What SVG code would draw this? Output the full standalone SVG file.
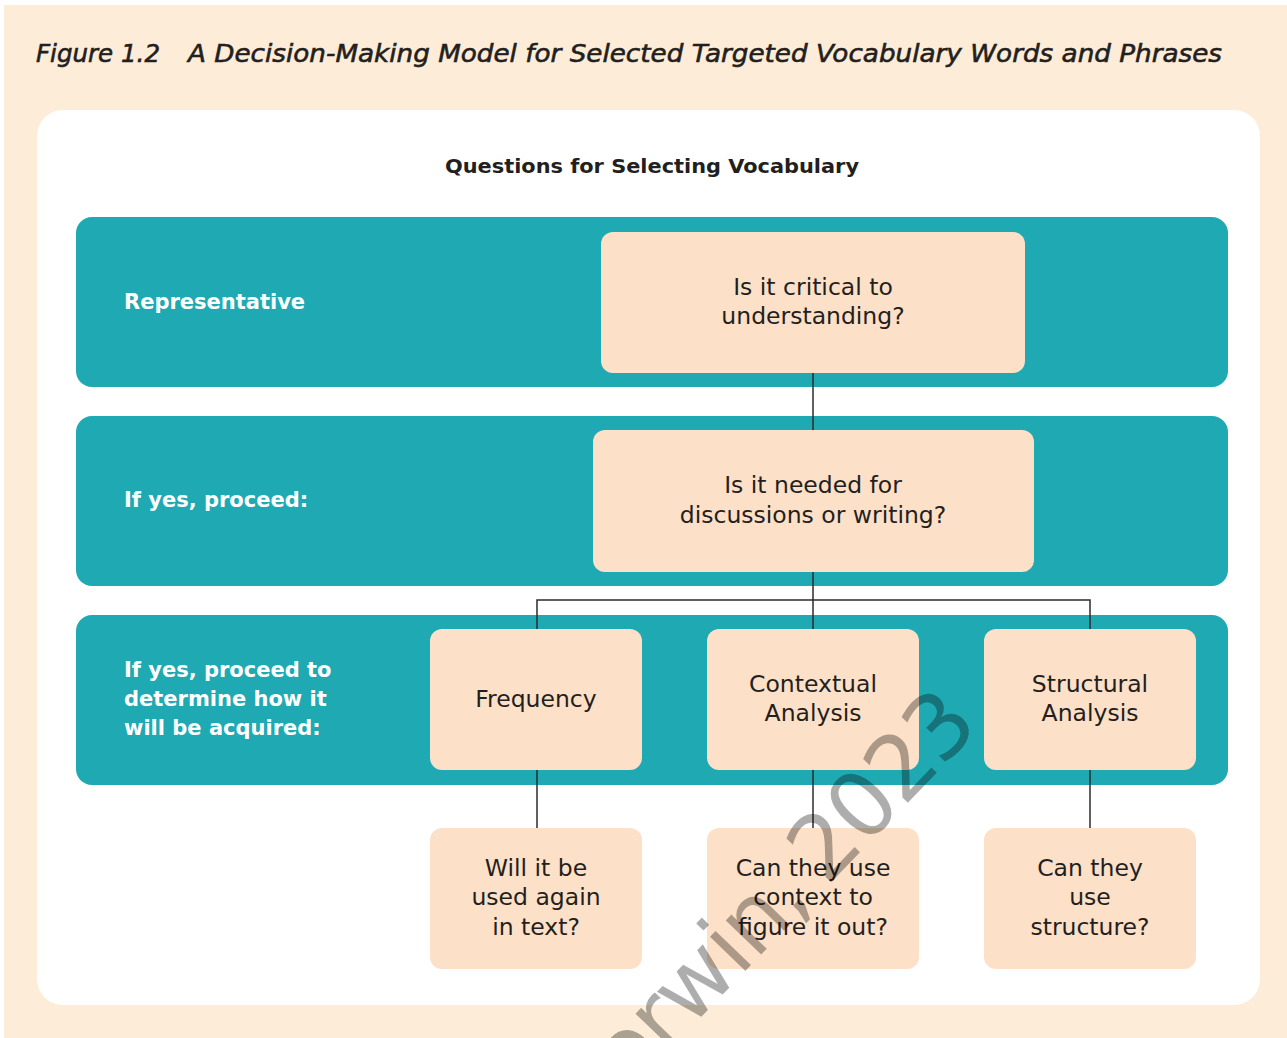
<svg xmlns="http://www.w3.org/2000/svg" width="1287" height="1038" viewBox="0 0 1287 1038">
  <style>
    .title { font-family: "DejaVu Sans", "Liberation Sans", sans-serif; font-style: italic; font-size: 25px; fill: #231f20; stroke: #231f20; stroke-width: 0.6; }
    .head { font-family: "DejaVu Sans", "Liberation Sans", sans-serif; font-weight: 700; font-size: 20px; fill: #231f20; }
    .band { fill: #1faab3; }
    .bandtext { font-family: "DejaVu Sans", "Liberation Sans", sans-serif; font-weight: 700; font-size: 21px; fill: #ffffff; }
    .box { fill: #fde0c8; }
    .boxtext { font-family: "DejaVu Sans", "Liberation Sans", sans-serif; font-size: 23.5px; fill: #231f20; text-anchor: middle; }
    .conn { stroke: #2b2b2b; stroke-width: 1.5; fill: none; }
    .wm { font-family: "DejaVu Sans", "Liberation Sans", sans-serif; font-size: 90px; letter-spacing: -2px; word-spacing: -6px; fill: #000000; fill-opacity: 0.32; }
  </style>
  <rect x="0" y="0" width="1287" height="1038" fill="#ffffff"/>
  <rect x="4" y="5" width="1283" height="1033" fill="#fdedd8"/>
  <text class="title" x="36" y="62" textLength="124" lengthAdjust="spacingAndGlyphs">Figure 1.2</text>
  <text class="title" x="188" y="62" textLength="1034" lengthAdjust="spacingAndGlyphs">A Decision-Making Model for Selected Targeted Vocabulary Words and Phrases</text>
  <rect x="37" y="110" width="1223" height="895" rx="26" fill="#ffffff"/>
  <text class="head" x="445" y="173" textLength="414" lengthAdjust="spacingAndGlyphs">Questions for Selecting Vocabulary</text>

  <g id="band-representative">
    <rect class="band" x="76" y="217" width="1152" height="170" rx="16"/>
    <text class="bandtext" x="124" y="309">Representative</text>
  </g>
  <g id="band-proceed">
    <rect class="band" x="76" y="416" width="1152" height="170" rx="16"/>
    <text class="bandtext" x="124" y="507">If yes, proceed:</text>
  </g>
  <g id="band-acquired">
    <rect class="band" x="76" y="615" width="1152" height="170" rx="16"/>
    <text class="bandtext" x="124" y="677">If yes, proceed to</text>
    <text class="bandtext" x="124" y="706">determine how it</text>
    <text class="bandtext" x="124" y="735">will be acquired:</text>
  </g>

  <g id="connectors">
    <line class="conn" x1="813" y1="373" x2="813" y2="430"/>
    <line class="conn" x1="813" y1="572" x2="813" y2="629"/>
    <polyline class="conn" points="537,629 537,600 1090,600 1090,629"/>
    <line class="conn" x1="537" y1="770" x2="537" y2="828"/>
    <line class="conn" x1="813" y1="770" x2="813" y2="828"/>
    <line class="conn" x1="1090" y1="770" x2="1090" y2="828"/>
  </g>

  <g id="node-critical">
    <rect class="box" x="601" y="232" width="424" height="141" rx="12"/>
    <text class="boxtext" x="813" y="295">Is it critical to</text>
    <text class="boxtext" x="813" y="324">understanding?</text>
  </g>
  <g id="node-needed">
    <rect class="box" x="593" y="430" width="441" height="142" rx="12"/>
    <text class="boxtext" x="813" y="493">Is it needed for</text>
    <text class="boxtext" x="813" y="523">discussions or writing?</text>
  </g>
  <g id="node-frequency">
    <rect class="box" x="430" y="629" width="212" height="141" rx="12"/>
    <text class="boxtext" x="536" y="707">Frequency</text>
  </g>
  <g id="node-contextual">
    <rect class="box" x="707" y="629" width="212" height="141" rx="12"/>
    <text class="boxtext" x="813" y="692">Contextual</text>
    <text class="boxtext" x="813" y="721">Analysis</text>
  </g>
  <g id="node-structural">
    <rect class="box" x="984" y="629" width="212" height="141" rx="12"/>
    <text class="boxtext" x="1090" y="692">Structural</text>
    <text class="boxtext" x="1090" y="721">Analysis</text>
  </g>
  <g id="node-used-again">
    <rect class="box" x="430" y="828" width="212" height="141" rx="12"/>
    <text class="boxtext" x="536" y="876">Will it be</text>
    <text class="boxtext" x="536" y="905">used again</text>
    <text class="boxtext" x="536" y="935">in text?</text>
  </g>
  <g id="node-context">
    <rect class="box" x="707" y="828" width="212" height="141" rx="12"/>
    <text class="boxtext" x="813" y="876">Can they use</text>
    <text class="boxtext" x="813" y="905">context to</text>
    <text class="boxtext" x="813" y="935">figure it out?</text>
  </g>
  <g id="node-structure">
    <rect class="box" x="984" y="828" width="212" height="141" rx="12"/>
    <text class="boxtext" x="1090" y="876">Can they</text>
    <text class="boxtext" x="1090" y="905">use</text>
    <text class="boxtext" x="1090" y="935">structure?</text>
  </g>

  <text class="wm" transform="translate(980,728) rotate(-46)" text-anchor="end">Corwin, 2023</text>
</svg>
